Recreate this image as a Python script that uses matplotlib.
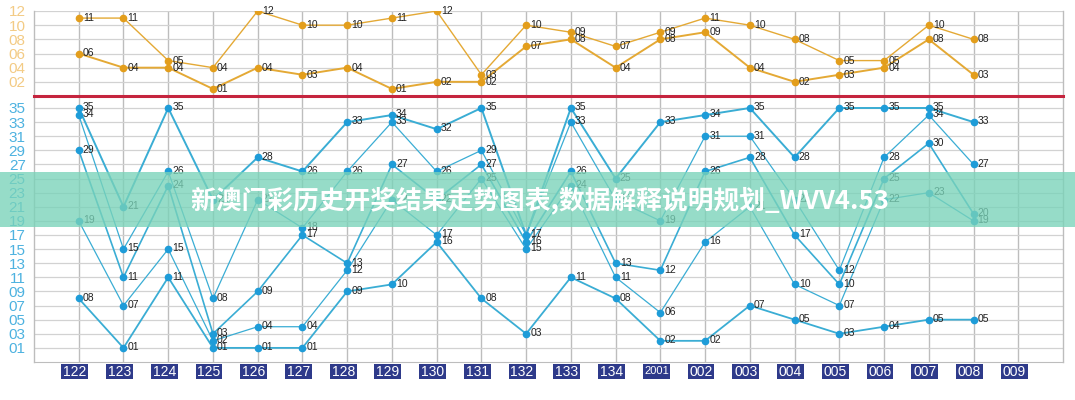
import matplotlib
matplotlib.use("Agg")
import matplotlib.pyplot as plt
import matplotlib.transforms as mtransforms
from matplotlib.patches import Rectangle
import numpy as np

plt.rcParams['font.family'] = ['Liberation Sans', 'DejaVu Sans']

# ---------------- data ----------------
periods = ['122', '123', '124', '125', '126', '127', '128', '129', '130', '131',
           '132', '133', '134', '2001', '002', '003', '004', '005', '006', '007',
           '008', '009']

front_numbers = [
    [8, 19, 29, 34, 35],
    [1, 7, 11, 15, 21],
    [11, 15, 24, 26, 35],
    [1, 2, 3, 8, 22],
    [1, 4, 9, 22, 28],
    [1, 4, 17, 18, 26],
    [9, 12, 13, 26, 33],
    [10, 22, 27, 33, 34],
    [16, 17, 22, 26, 32],
    [8, 25, 27, 29, 35],
    [3, 15, 16, 17, 17],
    [11, 24, 26, 33, 35],
    [8, 11, 13, 22, 25],
    [2, 6, 12, 19, 33],
    [2, 16, 26, 31, 34],
    [7, 21, 28, 31, 35],
    [5, 10, 17, 22, 28],
    [3, 7, 10, 12, 35],
    [4, 22, 25, 28, 35],
    [5, 23, 30, 34, 35],
    [5, 19, 20, 27, 33],
]

back_numbers = [
    [6, 11], [4, 11], [4, 5], [1, 4], [4, 12], [3, 10], [4, 10], [1, 11],
    [2, 12], [2, 3], [7, 10], [8, 9], [4, 7], [8, 9], [9, 11], [4, 10],
    [2, 8], [3, 5], [4, 5], [8, 10], [3, 8],
]

top_ticks = [2, 4, 6, 8, 10, 12]
bottom_ticks = list(range(1, 36, 2))

banner_text = '新澳门彩历史开奖结果走势图表,数据解释说明规划_WVV4.53'

# ---------------- style ----------------
W, H = 1075, 400
fig = plt.figure(figsize=(W / 100, H / 100), dpi=100)
fig.patch.set_facecolor('white')

left_px, right_px = 34, 1063
top_top_px, top_bot_px = 11, 96
bot_bot_px = 362

def frac_box(x0, y0, x1, y1):
    return [x0 / W, 1 - y1 / H, (x1 - x0) / W, (y1 - y0) / H]

ax_top = fig.add_axes(frac_box(left_px, top_top_px, right_px, top_bot_px))
ax_bot = fig.add_axes(frac_box(left_px, top_bot_px, right_px, bot_bot_px))

n = len(periods)
xs_all = np.arange(n)
nd = len(front_numbers)
xs = np.arange(nd)

grid_h = '#D2D2D2'
grid_v = '#BDBDBD'

for ax in (ax_top, ax_bot):
    ax.set_xlim(-1, n)
    ax.set_xticks(xs_all)
    ax.tick_params(axis='x', length=0, labelbottom=False)
    ax.tick_params(axis='y', length=0, pad=6, labelsize=11)
    for x in xs_all:
        ax.axvline(x, color=grid_v, lw=1.0, zorder=0)
    for s in ('left', 'right'):
        ax.spines[s].set_color(grid_v)
        ax.spines[s].set_linewidth(1.0)

# top panel (back zone)
ax_top.set_ylim(0, 12)
ax_top.set_yticks(top_ticks)
ax_top.set_yticklabels(['%02d' % t for t in top_ticks], color='#F3CB85')
for t in top_ticks:
    ax_top.axhline(t, color=grid_h, lw=0.9, zorder=0)
ax_top.spines['top'].set_visible(False)
ax_top.spines['bottom'].set_visible(False)

back_sorted = np.array([sorted(b) for b in back_numbers])
orange_line = '#E4A935'
orange_dot = '#E39E1C'
for k, lw in zip(range(back_sorted.shape[1]), [1.4, 1.0]):
    ax_top.plot(xs, back_sorted[:, k], color=orange_line, lw=lw, zorder=2)
for i, b in enumerate(back_numbers):
    for v in b:
        ax_top.plot(i, v, 'o', color=orange_dot, ms=4.5, zorder=3)
        ax_top.annotate('%02d' % v, (i, v), xytext=(3, 0), textcoords='offset points',
                        ha='left', va='center', fontsize=7.5, color='#222222', zorder=4)

# bottom panel (front zone)
ax_bot.set_ylim(-1, 36.7)
ax_bot.set_yticks(bottom_ticks)
ax_bot.set_yticklabels(['%02d' % t for t in bottom_ticks], color='#4DB2E0')
for t in bottom_ticks:
    ax_bot.axhline(t, color=grid_h, lw=0.9, zorder=0)
ax_bot.spines['bottom'].set_color(grid_v)
ax_bot.spines['top'].set_color('#C5243E')
ax_bot.spines['top'].set_linewidth(2.2)
ax_bot.spines['top'].set_zorder(5)

front_sorted = np.array([sorted(f) for f in front_numbers])
blue_line = '#3AADD4'
blue_dot = '#1E9CD8'
lws = [1.3, 0.9, 1.2, 0.9, 1.4]
for k in range(front_sorted.shape[1]):
    ax_bot.plot(xs, front_sorted[:, k], color=blue_line, lw=lws[k], zorder=2)
for i, f in enumerate(front_numbers):
    for v in sorted(set(f)):
        ax_bot.plot(i, v, 'o', color=blue_dot, ms=4.5, zorder=3)
        ax_bot.annotate('%02d' % v, (i, v), xytext=(3, 0.5), textcoords='offset points',
                        ha='left', va='center', fontsize=7.5, color='#222222', zorder=4)

# x labels as navy boxes
trans = mtransforms.blended_transform_factory(ax_bot.transData, ax_bot.transAxes)
box_w = 0.6
box_top = -2 / 266
box_h = 15 / 266
for i, p in enumerate(periods):
    cx = i - 0.09
    ax_bot.add_patch(Rectangle((cx - box_w / 2, box_top - box_h), box_w, box_h,
                               transform=trans, clip_on=False, facecolor='#2E3A8A',
                               edgecolor='none', zorder=6))
    ax_bot.text(cx, box_top - box_h / 2, p, transform=trans, ha='center', va='center',
                color='white', fontsize=8 if len(p) > 3 else 10, zorder=7,
                clip_on=False)

# banner overlay
fig.patches.append(Rectangle((0, 1 - 227 / H), 1, 55 / H, transform=fig.transFigure,
                             facecolor='#79D3B9', alpha=0.78, edgecolor='none', zorder=20))
fig.text(0.502, 1 - 200 / H, banner_text, ha='center', va='center', color='white',
         fontsize=18.5, fontweight='bold', family=['Noto Sans CJK SC', 'DejaVu Sans'],
         zorder=21)

fig.savefig('out.png', dpi=100, facecolor='white')
